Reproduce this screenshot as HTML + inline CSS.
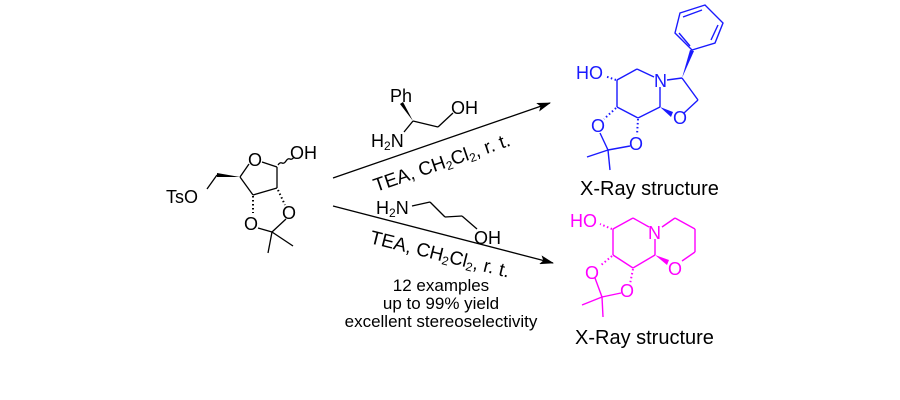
<!DOCTYPE html>
<html><head><style>body{margin:0;background:#fff}svg{display:block}text{font-family:"Liberation Sans",sans-serif}</style></head>
<body>
<svg width="900" height="400" viewBox="0 0 900 400" xmlns="http://www.w3.org/2000/svg">
<defs>
<marker id="ah" markerWidth="14" markerHeight="9" refX="13" refY="4.5" orient="auto" markerUnits="userSpaceOnUse"><path d="M0,0 L14,4.5 L0,9 L3,4.5 z" fill="#000"/></marker>
</defs>
<g stroke="#000" stroke-width="1.3" fill="none">
<line x1="262" y1="162" x2="277" y2="167"/>
<line x1="277" y1="167" x2="277" y2="188"/>
<line x1="277" y1="188" x2="253" y2="195"/>
<line x1="253" y1="195" x2="240" y2="177"/>
<line x1="240" y1="177" x2="249" y2="164"/>
<line x1="217" y1="175" x2="207" y2="189"/>
<line x1="258" y1="228" x2="272" y2="232"/>
<line x1="286" y1="219" x2="272" y2="232"/>
<line x1="272" y1="232" x2="268" y2="253"/>
<line x1="272" y1="232" x2="293" y2="246"/>
<path d="M278,165 q2,-3 4,-2 q2,1 4,-2 q2,-3 4,-2 q2,1 4,-2"/>
<line x1="333" y1="178" x2="550" y2="103" marker-end="url(#ah)"/>
<line x1="333" y1="206" x2="553" y2="263" marker-end="url(#ah)"/>
<line x1="413" y1="121" x2="438" y2="127"/>
<line x1="438" y1="127" x2="453" y2="113"/>
<line x1="413" y1="121" x2="404" y2="132"/>
<line x1="412" y1="206" x2="430" y2="202"/>
<line x1="430" y1="202" x2="445" y2="217"/>
<line x1="445" y1="217" x2="462" y2="216"/>
<line x1="462" y1="216" x2="477" y2="229"/>
</g>
<polygon points="240,177 217,173 217,177" fill="#000"/>
<polygon points="413,121 400,104 403,102" fill="#000"/>
<g stroke="#000" stroke-width="2" stroke-dasharray="1.5,2.5">
<line x1="253" y1="196" x2="253" y2="213"/>
<line x1="278" y1="190" x2="285" y2="205"/>
</g>
<g font-size="18" fill="#000">
<text x="248" y="166">O</text>
<text x="290" y="159">OH</text>
<text x="166" y="203">TsO</text>
<text x="244" y="230">O</text>
<text x="282" y="219">O</text>
<text x="390" y="102">Ph</text>
<text x="451" y="114">OH</text>
<text x="371" y="147">H<tspan font-size="12" dy="3">2</tspan><tspan dy="-3">N</tspan></text>
<text x="376" y="214">H<tspan font-size="12" dy="3">2</tspan><tspan dy="-3">N</tspan></text>
<text x="474" y="244">OH</text>
</g>
<text font-size="19" transform="translate(376,192) rotate(-19)">TEA, CH<tspan font-size="12" dy="3">2</tspan><tspan dy="-3">Cl</tspan><tspan font-size="12" dy="3">2</tspan><tspan dy="-3">, r. t.</tspan></text>
<text font-size="19" transform="translate(369,243) rotate(14)">TEA, CH<tspan font-size="12" dy="3">2</tspan><tspan dy="-3">Cl</tspan><tspan font-size="12" dy="3">2</tspan><tspan dy="-3">, r. t.</tspan></text>
<g font-size="17" text-anchor="middle">
<text x="441" y="291">12 examples</text>
<text x="441" y="309">up to 99% yield</text>
<text x="441" y="327">excellent stereoselectivity</text>
</g>
<g font-size="20"><text x="580" y="195">X-Ray structure</text><text x="575" y="344">X-Ray structure</text></g>

<!-- blue -->
<g stroke="#1a1aff" stroke-width="1.4" fill="none">
<line x1="617" y1="80" x2="637" y2="69"/>
<line x1="637" y1="69" x2="654" y2="77"/>
<line x1="660" y1="87" x2="660" y2="107"/>
<line x1="660" y1="107" x2="638" y2="118"/>
<line x1="638" y1="118" x2="617" y2="107"/>
<line x1="617" y1="107" x2="617" y2="80"/>
<line x1="667" y1="80" x2="682" y2="78"/>
<line x1="682" y1="78" x2="698" y2="100"/>
<line x1="698" y1="100" x2="684" y2="113"/>
<line x1="600" y1="133" x2="608" y2="150"/>
<line x1="630" y1="146" x2="608" y2="150"/>
<line x1="608" y1="150" x2="587" y2="157"/>
<line x1="608" y1="150" x2="610" y2="170"/>
<polygon points="680,13 705,5 723,23 715,43 692,50 675,33"/>
<line x1="683" y1="17" x2="702" y2="10"/><line x1="718" y1="25" x2="711" y2="40"/><line x1="690" y1="46" x2="679" y2="33"/>
</g>
<polygon points="682,78 690,50 694,51" fill="#1a1aff"/>
<polygon points="660,107 673,112 671,117" fill="#1a1aff"/>
<g stroke="#1a1aff" stroke-width="2" stroke-dasharray="1.5,2.5">
<line x1="616" y1="80" x2="605" y2="76"/>
<line x1="616" y1="108" x2="604" y2="119"/>
<line x1="638" y1="119" x2="637" y2="135"/>
</g>
<g font-size="18" fill="#1a1aff">
<text x="576" y="79">HO</text>
<text x="654" y="87">N</text>
<text x="673" y="124">O</text>
<text x="591" y="132">O</text>
<text x="629" y="150">O</text>
</g>

<!-- pink -->
<g stroke="#ff00ff" stroke-width="1.4" fill="none">
<line x1="613" y1="229" x2="633" y2="218"/>
<line x1="633" y1="218" x2="649" y2="227"/>
<line x1="655" y1="239" x2="655" y2="255"/>
<line x1="655" y1="255" x2="633" y2="268"/>
<line x1="633" y1="268" x2="613" y2="255"/>
<line x1="613" y1="255" x2="613" y2="229"/>
<line x1="662" y1="227" x2="675" y2="218"/>
<line x1="675" y1="218" x2="695" y2="229"/>
<line x1="695" y1="229" x2="695" y2="252"/>
<line x1="695" y1="252" x2="682" y2="261"/>
<line x1="595" y1="278" x2="602" y2="297"/>
<line x1="621" y1="293" x2="602" y2="297"/>
<line x1="602" y1="297" x2="582" y2="305"/>
<line x1="602" y1="297" x2="603" y2="317"/>
</g>
<polygon points="655,255 669,260 667,265" fill="#ff00ff"/>
<g stroke="#ff00ff" stroke-width="2" stroke-dasharray="1.5,2.5">
<line x1="612" y1="229" x2="600" y2="224"/>
<line x1="612" y1="256" x2="600" y2="266"/>
<line x1="633" y1="269" x2="630" y2="284"/>
</g>
<g font-size="18" fill="#ff00ff">
<text x="570" y="227">HO</text>
<text x="648" y="239">N</text>
<text x="668" y="275">O</text>
<text x="585" y="279">O</text>
<text x="620" y="297">O</text>
</g>
</svg>
</body></html>
